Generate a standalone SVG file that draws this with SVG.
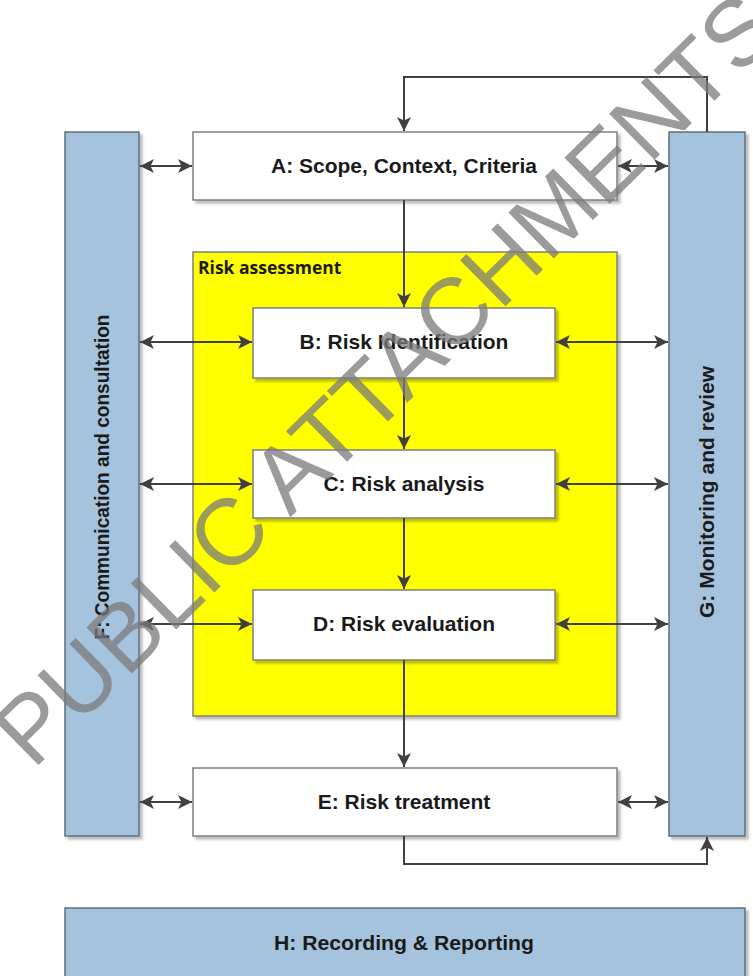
<svg xmlns="http://www.w3.org/2000/svg" width="753" height="976" viewBox="0 0 753 976">
<defs>
<filter id="sh" x="-5%" y="-5%" width="115%" height="115%">
<feDropShadow dx="3" dy="3" stdDeviation="1.2" flood-color="#000" flood-opacity="0.25"/>
</filter>
<marker id="ah" viewBox="0 0 14 14" refX="14" refY="7" markerWidth="14" markerHeight="14" markerUnits="userSpaceOnUse" orient="auto-start-reverse">
<path d="M0,0 L14,7 L0,14 L3.5,7 Z" fill="#404040"/>
</marker>
</defs>
<style>
.box{fill:#fff;stroke:#7f7f7f;stroke-width:1.5;filter:url(#sh)}
.blue{fill:#a6c3dd;stroke:#5f6f7f;stroke-width:1.5;filter:url(#sh)}
.ra{fill:#ffff00;stroke:#7f7f7f;stroke-width:1.5;filter:url(#sh)}
.t{font-family:"Liberation Sans",Arial,sans-serif;font-weight:bold;font-size:21px;fill:#1a1a1a;text-anchor:middle}
.c{fill:none;stroke:#404040;stroke-width:2}
.wm{font-family:"Liberation Sans",Arial,sans-serif;font-size:94px;fill:#7a7a7a;fill-opacity:0.75;text-anchor:middle}
</style>
<g id="F"><rect class="blue" x="65" y="132" width="74" height="704"/><text class="t" transform="translate(109,477) rotate(-90)" textLength="325" lengthAdjust="spacingAndGlyphs">F: Communication and consultation</text></g>
<g id="G"><rect class="blue" x="669" y="132" width="76" height="704"/><text class="t" transform="translate(714,492) rotate(-90)">G: Monitoring and review</text></g>
<g id="A"><rect class="box" x="193" y="132" width="424" height="68"/><text class="t" x="404" y="173">A: Scope, Context, Criteria</text></g>
<g id="RA"><rect class="ra" x="193" y="252" width="424" height="464"/><text x="198" y="274" style="font-family:'Open Sans','Liberation Sans',sans-serif;font-weight:bold;font-size:17.5px;fill:#1a1a1a">Risk assessment</text></g>
<g id="B"><rect class="box" x="253" y="308" width="302" height="70"/><text class="t" x="404" y="349">B: Risk Identification</text></g>
<g id="C"><rect class="box" x="253" y="450" width="302" height="68"/><text class="t" x="404" y="491">C: Risk analysis</text></g>
<g id="D"><rect class="box" x="253" y="590" width="302" height="70"/><text class="t" x="404" y="631">D: Risk evaluation</text></g>
<g id="E"><rect class="box" x="193" y="768" width="424" height="68"/><text class="t" x="404" y="809">E: Risk treatment</text></g>
<g id="H"><rect class="blue" x="65" y="908" width="680" height="80"/><text class="t" x="404" y="950" textLength="260" lengthAdjust="spacingAndGlyphs">H: Recording &amp; Reporting</text></g>
<g id="connectors">
<path class="c" d="M707,132 V77 H404 V131" marker-end="url(#ah)"/>
<path class="c" d="M404,200 V307" marker-end="url(#ah)"/>
<path class="c" d="M404,378 V449" marker-end="url(#ah)"/>
<path class="c" d="M404,518 V589" marker-end="url(#ah)"/>
<path class="c" d="M404,660 V767" marker-end="url(#ah)"/>
<path class="c" d="M404,836 V864 H707 V837" marker-end="url(#ah)"/>
<path class="c" d="M140,166 H192" marker-start="url(#ah)" marker-end="url(#ah)"/>
<path class="c" d="M618,166 H668" marker-start="url(#ah)" marker-end="url(#ah)"/>
<path class="c" d="M140,342 H252" marker-start="url(#ah)" marker-end="url(#ah)"/>
<path class="c" d="M556,342 H668" marker-start="url(#ah)" marker-end="url(#ah)"/>
<path class="c" d="M140,484 H252" marker-start="url(#ah)" marker-end="url(#ah)"/>
<path class="c" d="M556,484 H668" marker-start="url(#ah)" marker-end="url(#ah)"/>
<path class="c" d="M140,624 H252" marker-start="url(#ah)" marker-end="url(#ah)"/>
<path class="c" d="M556,624 H668" marker-start="url(#ah)" marker-end="url(#ah)"/>
<path class="c" d="M140,802 H192" marker-start="url(#ah)" marker-end="url(#ah)"/>
<path class="c" d="M618,802 H668" marker-start="url(#ah)" marker-end="url(#ah)"/>
</g>
<text class="wm" transform="translate(408,402) rotate(-44.5)">PUBLIC ATTACHMENTS</text>
</svg>
